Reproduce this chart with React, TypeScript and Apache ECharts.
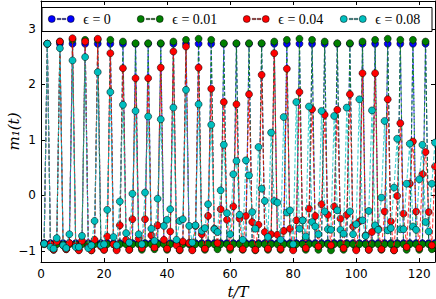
import { useEffect, useRef } from "react";
import * as echarts from "echarts";

// sample times t/T = 1..125
const times: number[] = Array.from({ length: 125 }, (_, i) => i + 1);

const eps0: number[] = [
  -0.86, 2.73, -0.86, -0.93, -0.86, 2.73, -0.86, -0.93, -0.86, 2.73, -0.86, -0.93, -0.86, 2.73, -0.86, -0.93,
  -0.86, 2.73, -0.86, -0.93, -0.86, 2.73, -0.86, -0.93, -0.86, 2.73, -0.86, -0.93, -0.86, 2.73, -0.86, -0.93,
  -0.86, 2.73, -0.86, -0.93, -0.86, 2.73, -0.86, -0.93, -0.86, 2.73, -0.86, -0.93, -0.86, 2.73, -0.86, -0.93,
  -0.86, 2.73, -0.86, -0.93, -0.86, 2.73, -0.86, -0.93, -0.86, 2.73, -0.86, -0.93, -0.86, 2.73, -0.86, -0.93,
  -0.86, 2.73, -0.86, -0.93, -0.86, 2.73, -0.86, -0.93, -0.86, 2.73, -0.86, -0.93, -0.86, 2.73, -0.86, -0.93,
  -0.86, 2.73, -0.86, -0.93, -0.86, 2.73, -0.86, -0.93, -0.86, 2.73, -0.86, -0.93, -0.86, 2.73, -0.86, -0.93,
  -0.86, 2.73, -0.86, -0.93, -0.86, 2.73, -0.86, -0.93, -0.86, 2.73, -0.86, -0.93, -0.86, 2.73, -0.86, -0.93,
  -0.86, 2.73, -0.86, -0.93, -0.86, 2.73, -0.86, -0.93, -0.86, 2.73, -0.86, -0.93,
  -0.86,
];

const eps001: number[] = [
  -0.88, 2.73, -0.88, -0.98, -0.88, 2.77, -0.88, -0.97, -0.88, 2.80, -0.88, -0.98, -0.88, 2.80, -0.88, -0.99,
  -0.88, 2.80, -0.88, -0.98, -0.88, 2.80, -0.88, -0.97, -0.88, 2.77, -0.88, -0.98, -0.88, 2.74, -0.88, -0.98,
  -0.88, 2.74, -0.88, -0.97, -0.88, 2.74, -0.88, -0.98, -0.88, 2.77, -0.88, -0.99, -0.88, 2.80, -0.88, -0.98,
  -0.88, 2.82, -0.88, -0.98, -0.88, 2.80, -0.88, -0.97, -0.88, 2.74, -0.88, -0.98, -0.88, 2.74, -0.88, -0.98,
  -0.88, 2.74, -0.88, -0.99, -0.88, 2.74, -0.88, -0.98, -0.88, 2.77, -0.88, -0.98, -0.88, 2.80, -0.88, -0.97,
  -0.88, 2.82, -0.88, -0.98, -0.88, 2.80, -0.88, -0.98, -0.88, 2.77, -0.88, -0.99, -0.88, 2.74, -0.88, -0.98,
  -0.88, 2.74, -0.88, -0.97, -0.88, 2.77, -0.88, -0.98, -0.88, 2.80, -0.88, -0.98, -0.88, 2.82, -0.88, -0.99,
  -0.88, 2.80, -0.88, -0.98, -0.88, 2.80, -0.88, -0.98, -0.88, 2.77, -0.88, -0.97,
  -0.88,
];

const eps004: number[] = [
  -0.87, 2.73, -0.88, -0.98, -0.83, 2.77, -0.90, -0.97, -0.86, 2.83, -0.90, -0.99, -0.82, 2.77, -0.93, -0.99,
  -0.80, 2.82, -0.92, -0.98, -0.74, 2.56, -0.88, -0.99, -0.54, 2.29, -0.80, -0.98, -0.43, 2.11, -0.78, -0.95,
  -0.43, 2.11, -0.72, -0.94, -0.54, 2.30, -0.80, -0.96, -0.65, 2.59, -0.90, -0.98, -0.83, 2.68, -0.86, -0.99,
  -0.55, 2.30, -0.70, -0.96, -0.37, 1.92, -0.60, -0.86, -0.25, 1.68, -0.44, -0.94, -0.20, 1.64, -0.42, -0.97,
  -0.37, 1.82, -0.48, -0.98, -0.53, 2.17, -0.66, -0.96, -0.70, 2.56, -0.71, -0.96, -0.64, 2.28, -0.60, -0.99,
  -0.45, 1.86, -0.45, -0.95, -0.24, 1.55, -0.37, -0.92, -0.16, 1.45, -0.35, -0.90, -0.20, 1.54, -0.42, -0.95,
  -0.35, 1.82, -0.56, -0.99, -0.47, 2.20, -0.72, -0.98, -0.66, 2.20, -0.60, -0.97, -0.29, 1.73, -0.47, -0.99,
  -0.01, 1.30, -0.33, -0.93, 0.21, 0.97, -0.29, -0.95, 0.38, 0.78, -0.30, -0.90,
  0.52,
];

const eps008: number[] = [
  -0.87, 2.73, -0.93, -0.96, -0.77, 2.65, -0.90, -0.95, -0.70, 2.43, -0.93, -0.93, -0.73, 2.49, -0.95, -0.90,
  -0.46, 2.22, -0.90, -0.88, -0.26, 1.86, -0.75, -0.90, -0.11, 1.63, -0.68, -0.85, 0.03, 1.52, -0.70, -0.88,
  0.05, 1.42, -0.60, -0.82, -0.06, 1.37, -0.55, -0.44, -0.25, 1.58, -0.80, -0.46, -0.43, 1.90, -0.55, -0.85,
  -0.54, 1.64, -0.64, -0.59, -0.16, 1.27, -0.61, -0.66, 0.09, 0.91, -0.32, -0.70, 0.38, 0.62, -0.35, -0.80,
  0.63, 0.36, -0.30, -0.60, 0.87, 0.12, -0.10, -0.75, 1.13, -0.10, -0.13, -0.80, 1.41, -0.31, -0.27, -0.88,
  1.68, -0.60, -0.45, -0.74, 1.60, -0.48, -0.56, -0.70, 1.52, -0.29, -0.61, -0.62, 1.43, -0.27, -0.62, -0.69,
  1.58, -0.29, -0.70, -0.52, 1.73, -0.45, -0.73, -0.28, 1.53, -0.54, -0.62, -0.04, 1.34, -0.63, -0.59, 0.14,
  1.02, -0.61, -0.61, 0.21, 0.93, -0.56, -0.62, 0.29, 0.91, -0.48, -0.65, 0.21,
  0.95,
];

const seriesNames: string[] = ["ϵ = 0", "ϵ = 0.01", "ϵ = 0.04", "ϵ = 0.08"];
const seriesValues: number[][] = [eps0, eps001, eps004, eps008];
const seriesColors: string[] = ["#0000ff", "#008000", "#ff0000", "#00bfbf"];
const yTickValues: number[] = [-1, 0, 1, 2, 3];
const legendLefts: number[] = [48, 137, 243, 340];

const legendIcon =
  "path://M0,4a3.5,3.5 0 1,0 7,0a3.5,3.5 0 1,0 -7,0z M19,4a3.5,3.5 0 1,0 7,0a3.5,3.5 0 1,0 -7,0z M9,3.4h3.6v1.2h-3.6z M14,3.4h3.6v1.2h-3.6z";

export default function App() {
  const ref = useRef<HTMLDivElement>(null);
  useEffect(() => {
    if (!ref.current) return;
    const chart = echarts.init(ref.current, undefined, { renderer: "svg" });
    const tickFont = { fontFamily: "DejaVu Sans", fontSize: 12, color: "#000" };
    const axisLine = { show: true, onZero: false, lineStyle: { color: "#000", width: 1 } };
    const option: any = {
      animation: false,
      backgroundColor: "#fff",
      grid: { left: 41, right: 1, top: 1, bottom: 37, containLabel: false, outerBoundsMode: "none" },
      xAxis: [
        {
          type: "value",
          min: 0,
          max: 125,
          interval: 20,
          position: "bottom",
          axisLine,
          axisTick: { inside: true, length: 4, lineStyle: { color: "#000" } },
          axisLabel: { ...tickFont, margin: 6, showMaxLabel: false },
          splitLine: { show: false },
          name: "t/T",
          nameLocation: "middle",
          nameGap: 22,
          nameMoveOverlap: false,
          nameTextStyle: { fontFamily: "DejaVu Serif", fontStyle: "italic", fontSize: 15, color: "#000" },
        },
        {
          type: "value",
          min: 0,
          max: 125,
          interval: 20,
          position: "top",
          axisLine,
          axisTick: { inside: true, length: 4, lineStyle: { color: "#000" } },
          axisLabel: { show: false },
          splitLine: { show: false },
        },
      ],
      yAxis: [
        {
          type: "value",
          min: -1.2,
          max: 3.5,
          position: "left",
          axisLine,
          axisTick: { inside: true, length: 4, customValues: yTickValues, lineStyle: { color: "#000" } },
          axisLabel: {
            ...tickFont,
            margin: 5,
            customValues: yTickValues,
            formatter: (v: number) => String(v).replace("-", "\u2212"),
          },
          splitLine: { show: false },
          name: "m\u2081(t)",
          nameLocation: "middle",
          nameGap: 20,
          nameRotate: 90,
          nameMoveOverlap: false,
          nameTextStyle: { fontFamily: "DejaVu Serif", fontStyle: "italic", fontSize: 15, color: "#000" },
        },
        {
          type: "value",
          min: -1.2,
          max: 3.5,
          position: "right",
          axisLine,
          axisTick: { inside: true, length: 4, customValues: yTickValues, lineStyle: { color: "#000" } },
          axisLabel: { show: false },
          splitLine: { show: false },
        },
      ],
      graphic: [
        {
          type: "rect",
          shape: { x: 42, y: 7.5, width: 390, height: 24 },
          style: { fill: "#fff", stroke: "#000", lineWidth: 1 },
          z: 15,
        },
      ],
      legend: seriesNames.map((name, i) => ({
        data: [name],
        left: legendLefts[i],
        top: 12,
        padding: 0,
        itemWidth: 26,
        itemHeight: 7,
        icon: legendIcon,
        selectedMode: false,
        itemStyle: { borderColor: "#000", borderWidth: 0.5 },
        textStyle: { fontFamily: "Liberation Serif", fontSize: 14, color: "#000", padding: [0, 0, 0, 4] },
        z: 20,
      })),
      series: seriesNames.map((name, i) => ({
        name,
        type: "line",
        xAxisIndex: 0,
        yAxisIndex: 0,
        z: 2 + i,
        data: times.map((t, j) => [t, seriesValues[i][j]]),
        symbol: "circle",
        symbolSize: 7,
        showAllSymbol: true,
        color: seriesColors[i],
        itemStyle: { color: seriesColors[i], borderColor: "#000", borderWidth: 0.5 },
        lineStyle: { color: seriesColors[i], width: 1.1, type: [4, 2], opacity: 0.75 },
        emphasis: { disabled: true },
        clip: true,
      })),
    };
    chart.setOption(option);
    return () => chart.dispose();
  }, []);
  return (
    <div
      ref={ref}
      style={{ position: "absolute", left: 0, top: 0, width: 436, height: 299 }}
    />
  );
}
